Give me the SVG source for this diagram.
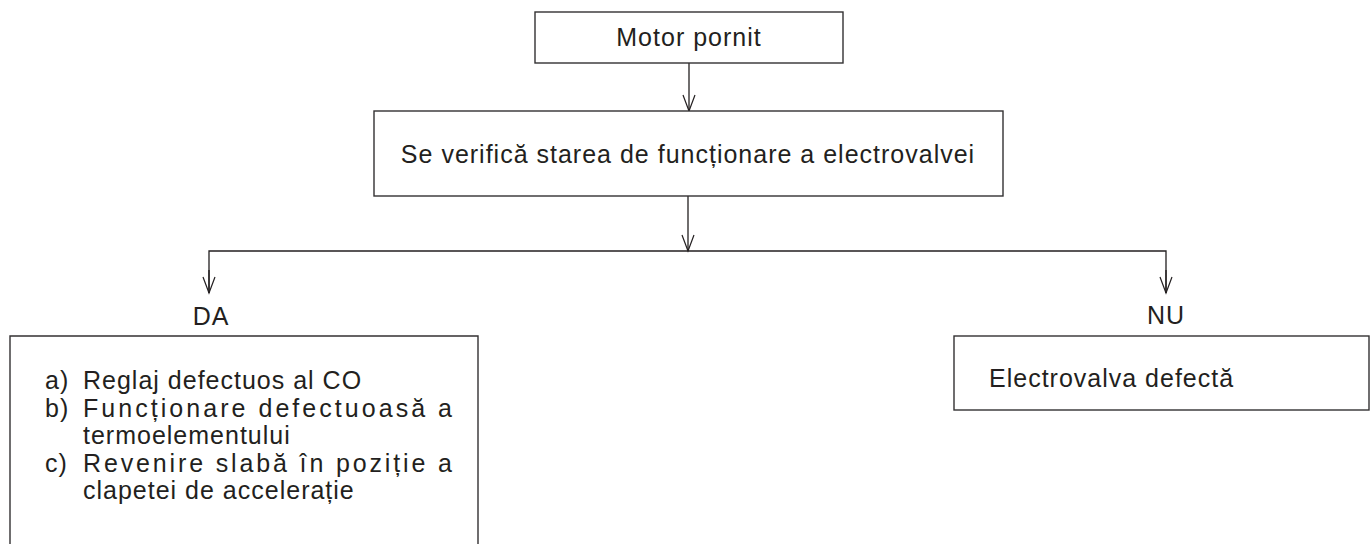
<svg xmlns="http://www.w3.org/2000/svg" width="1370" height="544" viewBox="0 0 1370 544">
  <defs>
    <marker id="arr" markerUnits="userSpaceOnUse" markerWidth="20" markerHeight="20" refX="0" refY="0" orient="auto" viewBox="-18 -10 20 20" overflow="visible">
      <path d="M-16,-6 L0,0 L-16,6" fill="none" stroke="#231f20" stroke-width="1.2"/>
    </marker>
    <style>
      .box { fill: #ffffff; stroke: #333132; stroke-width: 1.4; }
      .line { fill: none; stroke: #231f20; stroke-width: 1.3; }
      .txt { font-family: "Liberation Sans", Arial, sans-serif; font-size: 25px; fill: #231f20; letter-spacing: 1px; }
    </style>
  </defs>
  <rect width="1370" height="544" fill="#ffffff"/>

  <g id="connectors">
    <line class="line" x1="689" y1="63" x2="689" y2="111" marker-end="url(#arr)"/>
    <line class="line" x1="688" y1="196" x2="688" y2="251" marker-end="url(#arr)"/>
    <polyline class="line" points="209,293 209,251 1166,251 1166,293"/>
    <line class="line" x1="209" y1="270" x2="209" y2="293" marker-end="url(#arr)"/>
    <line class="line" x1="1166" y1="270" x2="1166" y2="293" marker-end="url(#arr)"/>
  </g>

  <g id="node-motor">
    <rect class="box" x="535" y="12" width="308" height="51"/>
    <text class="txt" x="689" y="46" text-anchor="middle">Motor pornit</text>
  </g>

  <g id="node-verifica">
    <rect class="box" x="374" y="111" width="629" height="85"/>
    <text class="txt" x="688" y="163" text-anchor="middle">Se verifică starea de funcționare a electrovalvei</text>
  </g>

  <g id="label-da">
    <text class="txt" x="211" y="325" text-anchor="middle">DA</text>
  </g>

  <g id="label-nu">
    <text class="txt" x="1166" y="324" text-anchor="middle">NU</text>
  </g>

  <g id="node-da">
    <path class="box" d="M10,548 L10,336 L478,336 L478,548"/>
    <text class="txt" x="45" y="389">a)</text>
    <text class="txt" x="83" y="389">Reglaj defectuos al CO</text>
    <text class="txt" x="45" y="417">b)</text>
    <text class="txt" x="83" y="417" textLength="370" lengthAdjust="spacing">Funcționare defectuoasă a</text>
    <text class="txt" x="83" y="444">termoelementului</text>
    <text class="txt" x="45" y="472">c)</text>
    <text class="txt" x="83" y="472" textLength="370" lengthAdjust="spacing">Revenire slabă în poziție a</text>
    <text class="txt" x="83" y="499">clapetei de accelerație</text>
  </g>

  <g id="node-nu">
    <rect class="box" x="954" y="336" width="415" height="74"/>
    <text class="txt" x="989" y="387">Electrovalva defectă</text>
  </g>
</svg>
